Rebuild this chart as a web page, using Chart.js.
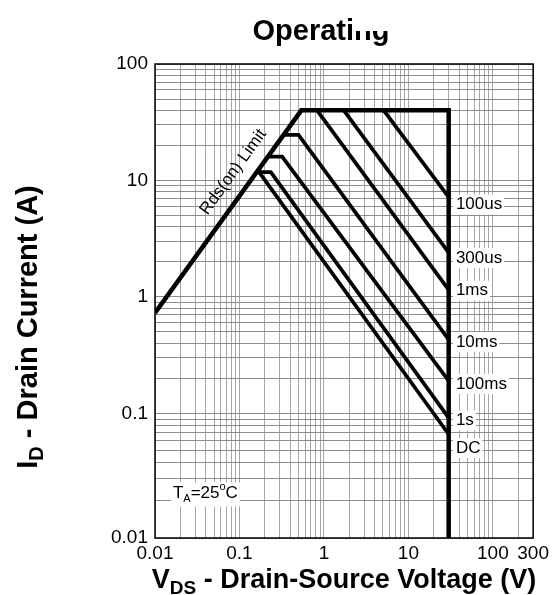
<!DOCTYPE html>
<html>
<head>
<meta charset="utf-8">
<script src="https://cdn.jsdelivr.net/npm/chart.js@4.4.1/dist/chart.umd.min.js"></script>
<style>
  html, body { margin: 0; padding: 0; background: #fff; }
  #wrap { width: 553px; height: 595px; }
</style>
</head>
<body>
<div id="wrap"><canvas id="soa"></canvas></div>
<script>
// Safe operating area, log-log.

// outer envelope: Rds(on) limit -> 40 A package limit -> 30 V BVdss
const envelopeV = [0.01, 0.54, 30, 30];
const envelopeI = [0.73, 40, 40, 0.01];

// single pulse curves
const pulseNames = ["100us", "300us", "1ms", "10ms", "100ms", "1s", "DC"];
const pulseV = [
    [5.1, 30],
    [1.72, 30],
    [0.83, 30],
    [0.33, 0.5, 30],
    [0.216, 0.32, 30],
    [0.16, 0.235, 30],
    [0.165, 30],
];
const pulseI = [
    [40, 7.2],
    [40, 2.4],
    [40, 1.15],
    [24.6, 24.6, 0.43],
    [16, 16, 0.19],
    [11.8, 11.8, 0.092],
    [12.2, 0.068],
];

// where the duration labels sit (just right of the 30 V edge)
const labelV = 36.5;
const labelI = [6.2, 2.16, 1.13, 0.41, 0.179, 0.088, 0.0526];

const xTicks = [0.01, 0.1, 1, 10, 100, 300];
const xTickLabels = ["0.01", "0.1", "1", "10", "100", "300"];
const yTicks = [0.01, 0.1, 1, 10, 100];
const yTickLabels = ["0.01", "0.1", "1", "10", "100"];

const FONT = '"Liberation Sans", Arial, sans-serif';

// the bottom decade of the original y axis is drawn a bit taller than the others
const Y_BREAK = 0.1;
const Y_BOTTOM_SHARE = 0.263;

class StretchedLogScale extends Chart.LogarithmicScale {
    getDecimalForValue(value) {
        const lmin = Math.log10(this.min), lmax = Math.log10(this.max), lb = Math.log10(Y_BREAK);
        const lv = Math.log10(value);
        if (lv >= lb) return Y_BOTTOM_SHARE + (1 - Y_BOTTOM_SHARE) * (lv - lb) / (lmax - lb);
        return Y_BOTTOM_SHARE * (lv - lmin) / (lb - lmin);
    }
    getPixelForValue(value) {
        if (value === undefined || value === null || value <= 0) value = this.min;
        return this.getPixelForDecimal(this.getDecimalForValue(value));
    }
    getValueForPixel(pixel) {
        const d = this.getDecimalForPixel(pixel);
        const lmin = Math.log10(this.min), lmax = Math.log10(this.max), lb = Math.log10(Y_BREAK);
        if (d >= Y_BOTTOM_SHARE) return Math.pow(10, lb + (d - Y_BOTTOM_SHARE) / (1 - Y_BOTTOM_SHARE) * (lmax - lb));
        return Math.pow(10, lmin + d / Y_BOTTOM_SHARE * (lb - lmin));
    }
}
StretchedLogScale.id = "stretchedLog";
StretchedLogScale.defaults = Chart.LogarithmicScale.defaults;
Chart.register(StretchedLogScale);

function pts(xs, ys) {
    return xs.map((v, i) => ({ x: v, y: ys[i] }));
}

// 1..9 per decade, no 1.5 steps
function logGrid(scale) {
    const out = [];
    const e0 = Math.floor(Math.log10(scale.min));
    const e1 = Math.ceil(Math.log10(scale.max));
    for (let e = e0; e <= e1; e++) {
        for (let m = 1; m <= 9; m++) {
            const v = +(m * Math.pow(10, e)).toPrecision(6);
            if (v >= scale.min * 0.999 && v <= scale.max * 1.001) out.push({ value: v });
        }
    }
    scale.ticks = out;
}

function pickLabel(values, labels) {
    return (v) => {
        const i = values.findIndex((t) => Math.abs(t - v) < t * 1e-6);
        return i < 0 ? "" : labels[i];
    };
}

// text with a lowered / raised part, drawn left to right from (x, y)
function richText(ctx, parts, x, y) {
    let cx = x;
    for (const p of parts) {
        ctx.font = p.font;
        ctx.fillText(p.t, cx, y + (p.dy || 0));
        cx += ctx.measureText(p.t).width;
    }
    return cx - x;
}

function richWidth(ctx, parts) {
    let w = 0;
    for (const p of parts) {
        ctx.font = p.font;
        w += ctx.measureText(p.t).width;
    }
    return w;
}

const annotate = {
    id: "annotate",
    beforeDatasetsDraw(chart) {
        const { ctx, chartArea: a } = chart;
        ctx.save();
        ctx.strokeStyle = "#000";
        ctx.lineWidth = 1.5;
        ctx.strokeRect(a.left, a.top, a.right - a.left, a.bottom - a.top);
        ctx.restore();
    },
    afterDatasetsDraw(chart) {
        const { ctx, scales: { x, y } } = chart;
        ctx.save();
        ctx.textBaseline = "middle";

        // duration labels
        ctx.font = "17px " + FONT;
        pulseNames.forEach((n, k) => {
            const px = x.getPixelForValue(labelV);
            const py = y.getPixelForValue(labelI[k]);
            const w = ctx.measureText(n).width;
            ctx.fillStyle = "#fff";
            ctx.fillRect(px - 3, py - 10, w + 5, 20);
            ctx.fillStyle = "#000";
            ctx.fillText(n, px, py);
        });

        // Rds(on) Limit along the rising edge
        const x0 = x.getPixelForValue(envelopeV[0]), y0 = y.getPixelForValue(envelopeI[0]);
        const x1 = x.getPixelForValue(envelopeV[1]), y1 = y.getPixelForValue(envelopeI[1]);
        const ang = Math.atan2(y1 - y0, x1 - x0);
        const fx = x0 + (x1 - x0) * 0.64, fy = y0 + (y1 - y0) * 0.64;
        ctx.save();
        ctx.translate(fx + Math.sin(ang) * 19, fy - Math.cos(ang) * 19);
        ctx.rotate(ang);
        ctx.font = "17px " + FONT;
        ctx.textAlign = "center";
        ctx.fillText("Rds(on) Limit", 0, 0);
        ctx.restore();

        // ambient temperature note
        const ta = [
            { t: "T", font: "17px " + FONT },
            { t: "A", font: "11px " + FONT, dy: 6 },
            { t: "=25", font: "17px " + FONT },
            { t: "o", font: "11px " + FONT, dy: -6 },
            { t: "C", font: "17px " + FONT },
        ];
        const tx = x.getPixelForValue(0.0163), ty = y.getPixelForValue(0.0228);
        const tw = richWidth(ctx, ta);
        ctx.fillStyle = "#fff";
        ctx.fillRect(tx - 2, ty - 11, tw + 4, 24);
        ctx.fillStyle = "#000";
        richText(ctx, ta, tx, ty);
        ctx.restore();
    },
    afterDraw(chart) {
        const { ctx } = chart;
        ctx.save();
        ctx.fillStyle = "#000";
        ctx.textBaseline = "alphabetic";

        // title (the tail of it is blanked out in the original scan)
        ctx.font = "bold 29px " + FONT;
        ctx.textAlign = "center";
        ctx.fillText("Operating", 321, 40);
        ctx.textAlign = "left";
        const tw = ctx.measureText("Operating").width;
        const ng = ctx.measureText("ng").width;
        ctx.fillStyle = "#fff";
        ctx.fillRect(321 + tw / 2 - ng - 1, 10, ng + 4, 21);
        ctx.fillStyle = "#000";

        // x axis title
        const xt = [
            { t: "V", font: "bold 27px " + FONT },
            { t: "DS", font: "bold 19px " + FONT, dy: 6 },
            { t: " - Drain-Source Voltage (V)", font: "bold 27px " + FONT },
        ];
        const xw = richWidth(ctx, xt);
        richText(ctx, xt, 344 - xw / 2, 588);

        // y axis title
        const yt = [
            { t: "I", font: "bold 29px " + FONT },
            { t: "D", font: "bold 20px " + FONT, dy: 6 },
            { t: " - Drain Current (A)", font: "bold 29px " + FONT },
        ];
        const yw = richWidth(ctx, yt);
        ctx.translate(37, 327);
        ctx.rotate(-Math.PI / 2);
        richText(ctx, yt, -yw / 2, 0);
        ctx.restore();
    },
};

const datasets = [
    { label: "envelope", data: pts(envelopeV, envelopeI), borderWidth: 4.5 },
    ...pulseNames.map((n, k) => ({ label: n, data: pts(pulseV[k], pulseI[k]), borderWidth: 3.7 })),
].map((d) => ({ ...d, borderColor: "#000", pointRadius: 0, fill: false, tension: 0, borderJoinStyle: "miter" }));

new Chart(document.getElementById("soa"), {
    type: "line",
    data: { datasets },
    options: {
        responsive: true,
        maintainAspectRatio: false,
        animation: false,
        layout: { padding: { top: 64, right: 16, bottom: 0, left: 0 } },
        plugins: {
            legend: { display: false },
            tooltip: { enabled: false },
            title: { display: false },
        },
        scales: {
            x: {
                type: "logarithmic",
                min: 0.01,
                max: 300,
                afterBuildTicks: logGrid,
                afterFit: (s) => { s.height = 57; },
                grid: { color: "#a6a6a6", lineWidth: 1, drawTicks: false },
                border: { display: false },
                ticks: {
                    callback: pickLabel(xTicks, xTickLabels),
                    autoSkip: false,
                    maxRotation: 0,
                    minRotation: 0,
                    padding: 4,
                    color: "#000",
                    font: { family: FONT, size: 19 },
                },
            },
            y: {
                type: "stretchedLog",
                min: 0.01,
                max: 100,
                afterBuildTicks: logGrid,
                afterFit: (s) => { s.width = 155; },
                grid: { color: "#8c8c8c", lineWidth: 1, drawTicks: false },
                border: { display: false },
                ticks: {
                    callback: pickLabel(yTicks, yTickLabels),
                    autoSkip: false,
                    padding: 7,
                    color: "#000",
                    font: { family: FONT, size: 19 },
                },
            },
        },
    },
    plugins: [annotate],
});
</script>
</body>
</html>
